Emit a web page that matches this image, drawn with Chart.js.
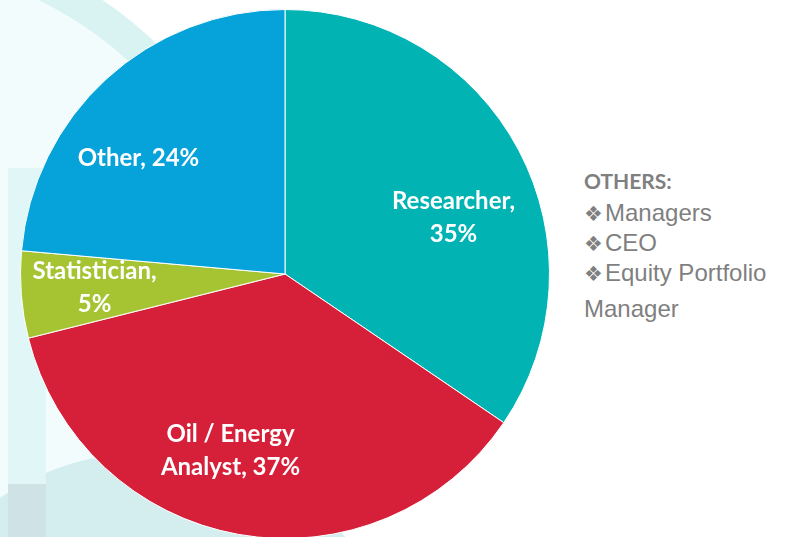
<!DOCTYPE html>
<html>
<head>
<meta charset="utf-8">
<script src="https://cdn.jsdelivr.net/npm/chart.js@4/dist/chart.umd.min.js"></script>
<style>
  html, body { margin: 0; padding: 0; background: #ffffff; overflow: hidden; }
  #stage { position: relative; width: 794px; height: 537px; overflow: hidden; background: #ffffff; }
  .deco { position: absolute; pointer-events: none; }
  #ringOuter { left: -518px; top: -68px; width: 796px; height: 796px; border-radius: 50%; background: #d9f3f3; }
  #ringInner { left: -486px; top: -36px; width: 732px; height: 732px; border-radius: 50%; background: #f3fcfc; }
  #bar1 { left: 8px; top: 168px; width: 38px; height: 400px; background: #e1f6f6; }
  #bottomBand { left: -110px; top: 452px; width: 520px; height: 500px; border-radius: 50%; background: #d4eef0; }
  #bar2 { left: 8px; top: 484px; width: 38px; height: 80px; background: #cfe3e6; }
  #chartBox { position: absolute; left: 20px; top: 9px; width: 530px; height: 530px; }
  #others { position: absolute; left: 584px; top: 0; color: #7f7f7f; }
  #others .line { position: absolute; left: 0; white-space: nowrap; font-family: "Liberation Sans", Arial, sans-serif; font-size: 24px; line-height: 24px; }
  #others .head { font-family: Lato, "Open Sans", sans-serif; font-weight: 700; font-size: 21px; line-height: 21px; }
  #others .bul { display: inline-block; width: 21px; font-family: "DejaVu Sans", sans-serif; font-size: 21px; vertical-align: 0px; }
</style>
</head>
<body>
<div id="stage">
  <div class="deco" id="ringOuter"></div>
  <div class="deco" id="ringInner"></div>
  <div class="deco" id="bottomBand"></div>
  <div class="deco" id="bar1"></div>
  <div class="deco" id="bar2"></div>
  <div id="chartBox"><canvas id="c"></canvas></div>
  <div id="others"></div>
</div>
<script>
// ---- data ----
const categories = ["Researcher", "Oil / Energy Analyst", "Statistician", "Other"];
const shares = [34.5, 36.6, 5.3, 23.6];            // slice sizes
const shareLabels = ["35%", "37%", "5%", "24%"];   // percentages printed on the chart
const labelLines = [
  ["Researcher,", "35%"],
  ["Oil / Energy", "Analyst, 37%"],
  ["Statistician,", "5%"],
  ["Other, 24%"]
];
const othersTitle = "OTHERS:";
const othersItems = ["Managers", "CEO", "Equity Portfolio", "Manager"];

// ---- styling ----
const sliceColors = ["#02B3B4", "#D61F39", "#A6C431", "#06A3DA"];
// label anchor, in units of the pie radius, from the pie centre
const labelAnchors = [[0.637, -0.217], [-0.206, 0.664], [-0.720, 0.051], [-0.554, -0.440]];

// right-hand text block
(function () {
  const box = document.getElementById('others');
  const head = document.createElement('div');
  head.className = 'line head';
  head.style.top = '170px';
  head.textContent = othersTitle;
  box.appendChild(head);
  const tops = [201, 231, 261, 297];
  othersItems.forEach((t, i) => {
    const d = document.createElement('div');
    d.className = 'line';
    d.style.top = tops[i] + 'px';
    if (i < 3) {
      const b = document.createElement('span');
      b.className = 'bul';
      b.textContent = '\u2756';
      d.appendChild(b);
    }
    d.appendChild(document.createTextNode(t));
    box.appendChild(d);
  });
})();

const labelPlugin = {
  id: 'sliceLabels',
  afterDatasetsDraw(chart) {
    const meta = chart.getDatasetMeta(0);
    const ctx = chart.ctx;
    ctx.save();
    ctx.fillStyle = '#ffffff';
    ctx.font = '700 24px Lato, "Open Sans", sans-serif';
    ctx.textAlign = 'center';
    ctx.textBaseline = 'alphabetic';
    meta.data.forEach((arc, i) => {
      const r = arc.outerRadius;
      const cx = arc.x + labelAnchors[i][0] * r;
      const cy = arc.y + labelAnchors[i][1] * r;
      const lines = labelLines[i];
      const lh = 33;
      const firstBase = cy - (lines.length - 1) * lh / 2 + 8.5;
      lines.forEach((ln, k) => ctx.fillText(ln, cx, firstBase + k * lh));
    });
    ctx.restore();
  }
};

new Chart(document.getElementById('c'), {
  type: 'pie',
  data: {
    labels: categories,
    datasets: [{
      data: shares,
      backgroundColor: sliceColors,
      borderColor: '#ffffff',
      borderWidth: 1
    }]
  },
  options: {
    responsive: true,
    maintainAspectRatio: false,
    animation: false,
    layout: { padding: 0 },
    plugins: {
      legend: { display: false },
      tooltip: { enabled: false }
    }
  },
  plugins: [labelPlugin]
});
</script>
</body>
</html>
